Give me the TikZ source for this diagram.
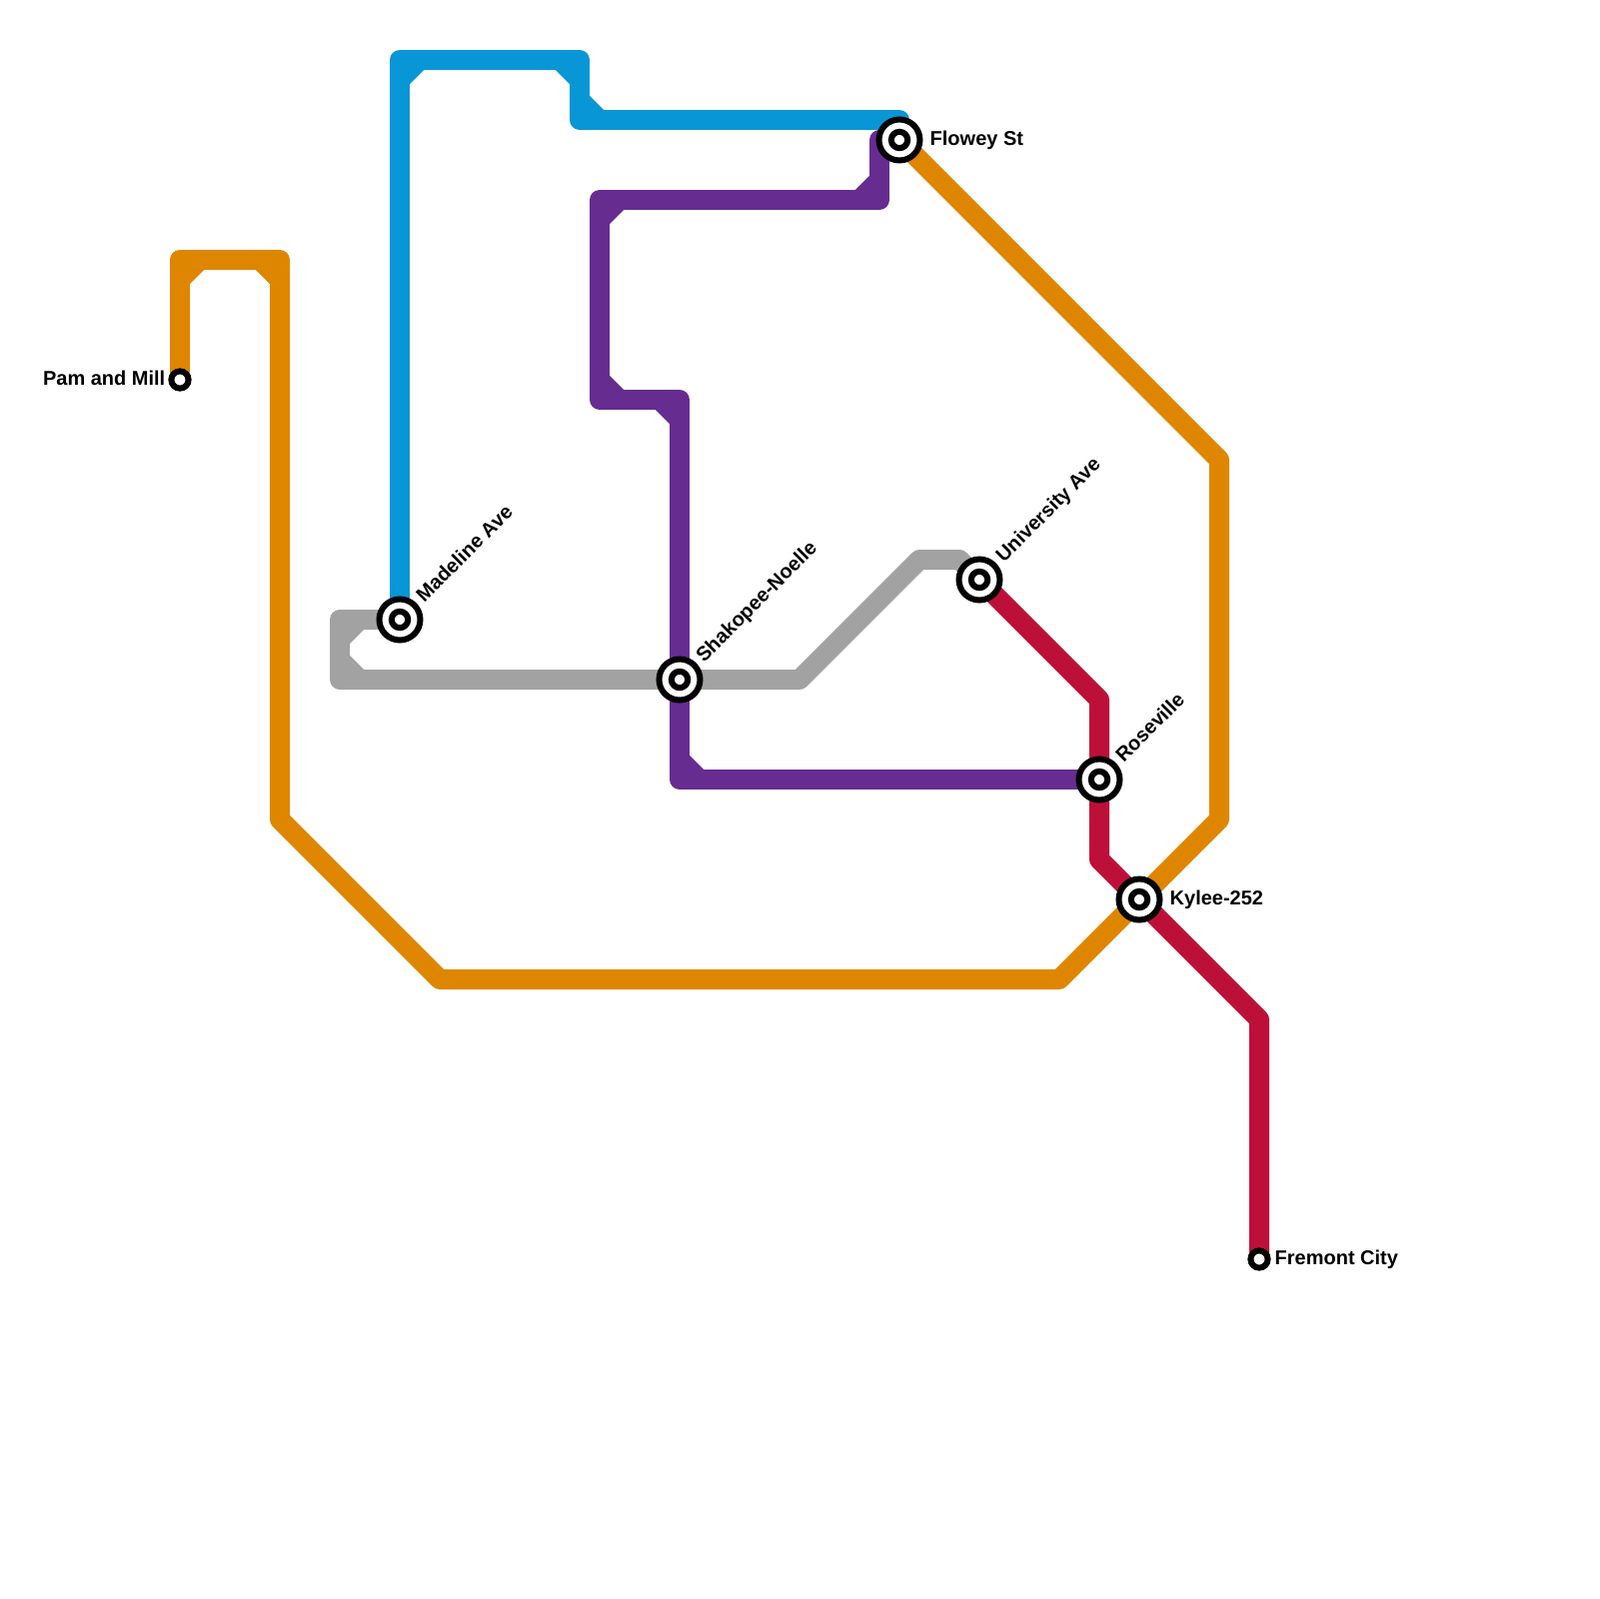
\documentclass[tikz,border=0pt]{standalone}
\usepackage{fontspec}
\setmainfont{Liberation Sans}
\usetikzlibrary{backgrounds}
\definecolor{lineorange}{HTML}{DF8600}
\definecolor{lineblue}{HTML}{0896D7}
\definecolor{linepurple}{HTML}{662C90}
\definecolor{linegrey}{HTML}{A2A2A2}
\definecolor{linered}{HTML}{BD1038}

\begin{document}
\begin{tikzpicture}[x=0.1mm, y=-0.1mm,
    interchange/.style={circle, draw, fill=white, line width=0.6mm, minimum size=4.1mm, inner sep=0pt,
      path picture={\draw[line width=0.6mm] (path picture bounding box.center) circle (0.82mm);}},
    terminus/.style={circle, draw, fill=white, line width=0.6mm, minimum size=1.72mm, inner sep=0pt},
    metro/.style={line width=2mm, line join=round},
    stationname/.style={inner sep=0pt, font=\fontsize{5.69pt}{6.8pt}\selectfont\bfseries}]
  \useasboundingbox (0,0) rectangle (1600,1600);

  \node[terminus] (pam) at (180,380) {};
  \node[interchange] (madeline) at (400,620) {};
  \node[interchange] (shakopee) at (680,680) {};
  \node[interchange] (flowey) at (900,140) {};
  \node[interchange] (university) at (980,580) {};
  \node[interchange] (roseville) at (1100,780) {};
  \node[interchange] (kylee) at (1140,900) {};
  \node[terminus] (fremont) at (1260,1260) {};

  \node[stationname, anchor=base east] (pamname) at (166,385) {Pam and Mill};
  \node[stationname, anchor=base west] (floweyname) at (930,145) {Flowey St};
  \node[stationname, anchor=base west] (kyleename) at (1170,905) {Kylee-252};
  \node[stationname, anchor=base west] (fremontname) at (1275,1265) {Fremont City};
  \node[stationname, anchor=base west, rotate=45] (madelinename) at (424,604) {Madeline Ave};
  \node[stationname, anchor=base west, rotate=45] (shakopeename) at (704,664) {Shakopee-Noelle};
  \node[stationname, anchor=base west, rotate=45] (universityname) at (1004,564) {University Ave};
  \node[stationname, anchor=base west, rotate=45] (rosevillename) at (1124,764) {Roseville};

  \begin{scope}[on background layer]
  % orange
  \draw[metro, lineorange] (pam.center) -- (180,260) -- (280,260) -- (280,820) -- (440,980) -- (1060,980)
    -- (kylee.center) -- (1220,820) -- (1220,460) -- (flowey.center);
  \draw[metro, lineorange] (180,280) -- (200,260);
  \draw[metro, lineorange] (260,260) -- (280,280);

  % blue
  \draw[metro, lineblue] (madeline.center) -- (400,60) -- (580,60) -- (580,120) -- (900,120) -- (flowey.center);
  \draw[metro, lineblue] (400,80) -- (420,60);
  \draw[metro, lineblue] (560,60) -- (580,80);
  \draw[metro, lineblue] (580,100) -- (600,120);

  % purple
  \draw[metro, linepurple] (flowey.center) -- (880,140) -- (880,200) -- (600,200) -- (600,400) -- (680,400)
    -- (shakopee.center) -- (680,780) -- (roseville.center);
  \draw[metro, linepurple] (860,200) -- (880,180);
  \draw[metro, linepurple] (600,220) -- (620,200);
  \draw[metro, linepurple] (600,380) -- (620,400);
  \draw[metro, linepurple] (660,400) -- (680,420);
  \draw[metro, linepurple] (680,760) -- (700,780);

  % grey
  \draw[metro, linegrey] (madeline.center) -- (340,620) -- (340,680) -- (shakopee.center) -- (800,680)
    -- (920,560) -- (960,560) -- (university.center);
  \draw[metro, linegrey] (340,640) -- (360,620);
  \draw[metro, linegrey] (340,660) -- (360,680);

  % red
  \draw[metro, linered] (university.center) -- (1100,700) -- (roseville.center) -- (1100,860) -- (kylee.center)
    -- (1260,1020) -- (fremont.center);
  \end{scope}
\end{tikzpicture}
\end{document}
